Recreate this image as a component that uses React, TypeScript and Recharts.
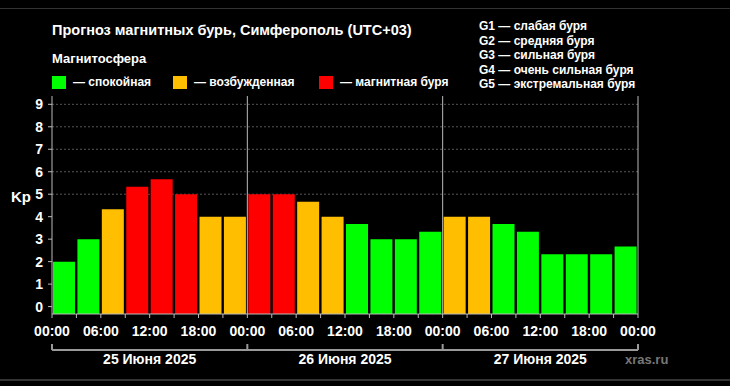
import { BarChart, Bar, XAxis, YAxis, CartesianGrid, ReferenceLine, Cell } from "recharts";

// start hour of every 3-hour slot (three days)
const hours = [0, 3, 6, 9, 12, 15, 18, 21, 24, 27, 30, 33, 36, 39, 42, 45, 48, 51, 54, 57, 60, 63, 66, 69];
const kp = [2, 3, 4.33, 5.33, 5.67, 5, 4, 4, 5, 5, 4.67, 4, 3.67, 3, 3, 3.33, 4, 4, 3.67, 3.33, 2.33, 2.33, 2.33, 2.67];

const hourTicks = [0, 3, 6, 9, 12, 15, 18, 21, 24, 27, 30, 33, 36, 39, 42, 45, 48, 51, 54, 57, 60, 63, 66, 69, 72];
const kpTicks = [0, 1, 2, 3, 4, 5, 6, 7, 8, 9];
const stormLevels = [5, 6, 7, 8, 9];
const gLabels = ["G1", "G2", "G3", "G4", "G5"];
const dayTicks = [0, 12, 24, 36, 48, 60, 72];
const dayLabels = ["25 Июня 2025", "26 Июня 2025", "27 Июня 2025"];
const daySplits = [24, 48];

const legendItems = [
  { color: "#00ff00", text: "— спокойная" },
  { color: "#ffbf00", text: "— возбужденная" },
  { color: "#ff0000", text: "— магнитная буря" },
];
const scaleNotes = [
  "G1 — слабая буря",
  "G2 — средняя буря",
  "G3 — сильная буря",
  "G4 — очень сильная буря",
  "G5 — экстремальная буря",
];

const Y_MIN = -0.33;
const Y_MAX = 9.37;
const FONT = "'Liberation Sans', Arial, sans-serif";
const AXIS = "#bbbbbb";

const data = hours.map((h, i) => ({ t: h + 1.5, kp: kp[i] }));

function colorFor(v: number) {
  if (v >= 5) return legendItems[2].color;
  if (v >= 4) return legendItems[1].color;
  return legendItems[0].color;
}

function fmtHour(v: number) {
  if (v % 6 !== 0) return "";
  const h = v % 24;
  return (h < 10 ? "0" + h : "" + h) + ":00";
}

function DayTick(props: any) {
  const { x, y, payload } = props;
  const v = payload.value;
  if (v % 24 === 0) {
    return <line x1={x} x2={x} y1={y - 6} y2={y} stroke="#999" strokeWidth={2} />;
  }
  return (
    <text x={x} y={y + 14} textAnchor="middle" fill="#fff" fontSize={14} fontWeight="bold">
      {dayLabels[(v - 12) / 24]}
    </text>
  );
}

export default function App() {
  return (
    <div
      style={{
        position: "absolute",
        left: 0,
        top: 0,
        width: 730,
        height: 386,
        background: "#000",
        fontFamily: FONT,
        color: "#fff",
        overflow: "hidden",
      }}
    >
      <div style={{ position: "absolute", left: 0, top: 8, width: 730, height: 1, background: "#333" }} />
      <div style={{ position: "absolute", left: 0, top: 379, width: 730, height: 2, background: "#333" }} />

      <div style={{ position: "absolute", left: 52, top: 22, fontSize: 14.5, fontWeight: "bold" }}>
        Прогноз магнитных бурь, Симферополь (UTC+03)
      </div>
      <div style={{ position: "absolute", left: 52, top: 51, fontSize: 13, fontWeight: "bold" }}>
        Магнитосфера
      </div>
      {legendItems.map((item, i) => (
        <div
          key={item.text}
          style={{
            position: "absolute",
            left: [52, 173, 319][i],
            top: 75,
            display: "flex",
            alignItems: "center",
            fontSize: 12,
            fontWeight: "bold",
          }}
        >
          <span style={{ display: "inline-block", width: 14, height: 13, background: item.color, marginRight: 7 }} />
          {item.text}
        </div>
      ))}
      <div style={{ position: "absolute", left: 479, top: 19, fontSize: 12, fontWeight: "bold", lineHeight: "14.5px" }}>
        {scaleNotes.map((s) => (
          <div key={s}>{s}</div>
        ))}
      </div>
      <div style={{ position: "absolute", left: 11, top: 188, fontSize: 15, fontWeight: "bold" }}>Kp</div>
      <div style={{ position: "absolute", left: 625, top: 352, fontSize: 13, fontWeight: "bold", color: "#777" }}>
        xras.ru
      </div>

      <BarChart
        width={730}
        height={386}
        data={data}
        margin={{ top: 96, right: 52, bottom: 16, left: 0 }}
        style={{ position: "absolute", left: 0, top: 0 }}
      >
        <CartesianGrid
          xAxisId="a"
          yAxisId="left"
          vertical={false}
          horizontalValues={stormLevels}
          stroke="#555"
          strokeDasharray="2 2"
        />
        <XAxis
          xAxisId="b"
          dataKey="t"
          type="number"
          domain={[0, 72]}
          ticks={dayTicks}
          interval={0}
          height={20}
          tickSize={0}
          tickMargin={0}
          axisLine={{ stroke: "#999", strokeWidth: 2 }}
          tickLine={false}
          tick={<DayTick />}
        />
        <XAxis
          xAxisId="a"
          dataKey="t"
          type="number"
          domain={[0, 72]}
          ticks={hourTicks}
          interval={0}
          tickFormatter={fmtHour}
          height={36}
          tickSize={4}
          tickMargin={8}
          axisLine={{ stroke: AXIS }}
          tickLine={{ stroke: AXIS }}
          tick={{ fill: "#fff", fontSize: 14, fontWeight: "bold" }}
        />
        <XAxis
          xAxisId="top"
          dataKey="t"
          type="number"
          orientation="top"
          domain={[0, 72]}
          height={0}
          tick={false}
          tickLine={false}
          axisLine={{ stroke: AXIS }}
        />
        <YAxis
          yAxisId="left"
          type="number"
          domain={[Y_MIN, Y_MAX]}
          ticks={kpTicks}
          interval={0}
          width={52}
          tickSize={4}
          tickMargin={5}
          axisLine={{ stroke: AXIS }}
          tickLine={{ stroke: AXIS }}
          tick={{ fill: "#fff", fontSize: 14, fontWeight: "bold" }}
        />
        <YAxis
          yAxisId="right"
          orientation="right"
          type="number"
          domain={[Y_MIN, Y_MAX]}
          ticks={kpTicks}
          interval={0}
          width={40}
          tickSize={4}
          tickMargin={4}
          tickFormatter={(v: number) => (v >= 5 ? gLabels[v - 5] : "")}
          axisLine={{ stroke: AXIS }}
          tickLine={{ stroke: AXIS }}
          tick={{ fill: "#fff", fontSize: 14, fontWeight: "bold", textAnchor: "start" }}
        />
        {daySplits.map((d) => (
          <ReferenceLine key={d} x={d} xAxisId="a" yAxisId="left" stroke={AXIS} />
        ))}
        <Bar
          xAxisId="a"
          yAxisId="left"
          dataKey={(d: any) => [Y_MIN, d.kp]}
          barSize={22}
          isAnimationActive={false}
        >
          {data.map((d) => (
            <Cell key={d.t} fill={colorFor(d.kp)} />
          ))}
        </Bar>
      </BarChart>
    </div>
  );
}
